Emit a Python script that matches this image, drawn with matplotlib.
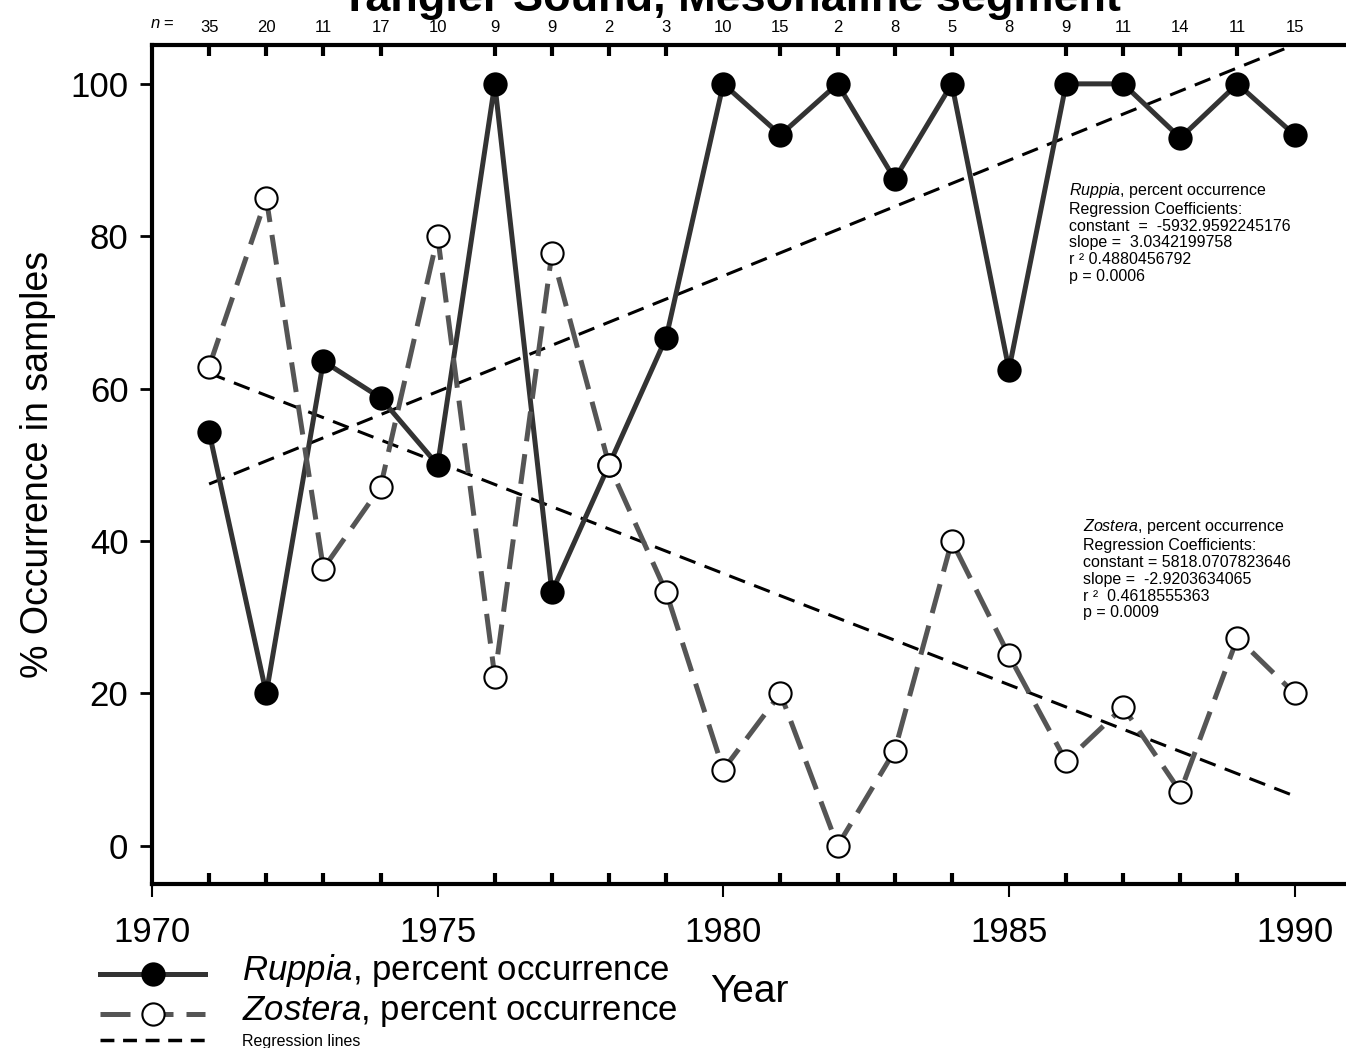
import matplotlib
matplotlib.use("Agg")
import matplotlib.pyplot as plt
from matplotlib.ticker import MultipleLocator
import numpy as np

plt.rcParams["font.family"] = ["Liberation Sans", "DejaVu Sans"]
plt.rcParams["mathtext.fontset"] = "custom"
plt.rcParams["mathtext.it"] = "Liberation Sans:italic"
plt.rcParams["mathtext.rm"] = "Liberation Sans"

# ── data ────────────────────────────────────────────────────────────────────
years = np.arange(1971, 1991)
n_samples = [35, 20, 11, 17, 10, 9, 9, 2, 3, 10, 15, 2, 8, 5, 8, 9, 11, 14, 11, 15]
ruppia = [54.3, 20.0, 63.6, 58.8, 50.0, 100.0, 33.3, 50.0, 66.7, 100.0,
          93.3, 100.0, 87.5, 100.0, 62.5, 100.0, 100.0, 92.9, 100.0, 93.3]
zostera = [62.9, 85.0, 36.4, 47.1, 80.0, 22.2, 77.8, 50.0, 33.3, 10.0,
           20.0, 0.0, 12.5, 40.0, 25.0, 11.1, 18.2, 7.1, 27.3, 20.0]

# regression coefficients as printed on the chart
rup_const, rup_slope, rup_r2, rup_p = -5932.9592245176, 3.0342199758, 0.4880456792, 0.0006
zos_const, zos_slope, zos_r2, zos_p = 5818.0707823646, -2.9203634065, 0.4618555363, 0.0009

fig = plt.figure(figsize=(13.46, 10.48), dpi=100)
ax = fig.add_axes([152 / 1346, 1 - 884 / 1048, 1 - 152 / 1346, (884 - 45) / 1048])

# regression lines
ax.plot(years, rup_const + rup_slope * years, color="black", lw=2.2,
        dashes=(5.5, 3.2), zorder=2)
ax.plot(years, zos_const + zos_slope * years, color="black", lw=2.2,
        dashes=(5.5, 3.2), zorder=2)

l_rup, = ax.plot(years, ruppia, color="#333333", lw=3.6, marker="o", ms=16,
                 mfc="black", mec="black", mew=1.5, zorder=3)
l_zos, = ax.plot(years, zostera, color="#555555", lw=3.6, dashes=(6, 2.6),
                 marker="o", ms=16, mfc="white", mec="black", mew=1.5, zorder=4)

ax.set_xlim(1970, 1990.9)
ax.set_ylim(-5, 105.1)
ax.xaxis.set_major_locator(MultipleLocator(5))
ax.xaxis.set_minor_locator(MultipleLocator(1))
ax.set_yticks(range(0, 101, 20))

for side in ("left", "bottom", "top"):
    ax.spines[side].set_linewidth(3)
ax.spines["right"].set_visible(False)

ax.tick_params(axis="x", which="major", direction="out", length=9, width=1.5,
               labelsize=25, pad=14, top=False)
ax.tick_params(axis="x", which="minor", direction="in", length=8, width=3,
               top=True, bottom=True)
ax.tick_params(axis="y", which="major", direction="out", length=9, width=2,
               labelsize=25, pad=8, right=False)

ax.set_ylabel("% Occurrence in samples", fontsize=27, labelpad=10)
ax.set_xlabel("Year", fontsize=28, labelpad=18)

# sample sizes along the top
top = ax.secondary_xaxis("top")
top.set_xticks(years, labels=[str(v) for v in n_samples])
top.tick_params(length=0, labelsize=12, pad=7)
top.spines["top"].set_visible(False)
fig.text(150 / 1346, 1 - 24 / 1048, "$n$ =", fontsize=12, va="center", ha="left")

fig.text(0.543, 1 - 11 / 1048, "Tangier Sound, Mesohaline segment", fontsize=32.5,
         fontweight="bold", ha="center", va="baseline")

# regression annotations
ax.text(0.768, 0.838,
        "$\\it{Ruppia}$, percent occurrence\nRegression Coefficients:\n"
        f"constant  =  {rup_const:.10f}\nslope =  {rup_slope:.10f}\n"
        f"r ² {rup_r2:.10f}\np = {rup_p:.4f}",
        transform=ax.transAxes, fontsize=11.5, va="top", ha="left", linespacing=1.15)
ax.text(0.780, 0.437,
        "$\\it{Zostera}$, percent occurrence\nRegression Coefficients:\n"
        f"constant = {zos_const:.10f}\nslope =  {zos_slope:.10f}\n"
        f"r ²  {zos_r2:.10f}\np = {zos_p:.4f}",
        transform=ax.transAxes, fontsize=11.5, va="top", ha="left", linespacing=1.15)

# legend below the axes
reg_handle = plt.Line2D([], [], color="black", lw=2.5, dashes=(4, 2.5))
leg = fig.legend([l_rup, l_zos, reg_handle],
                 ["$\\it{Ruppia}$, percent occurrence",
                  "$\\it{Zostera}$, percent occurrence",
                  "Regression lines"],
                 loc="upper left", bbox_to_anchor=(100 / 1346, 1 - 952 / 1048),
                 frameon=False, fontsize=11.5, handlelength=6.6, handletextpad=2.3,
                 labelspacing=0.3, borderpad=0, borderaxespad=0)
for t in leg.get_texts()[:2]:
    t.set_fontsize(25)

fig.savefig("out.png", dpi=100)
